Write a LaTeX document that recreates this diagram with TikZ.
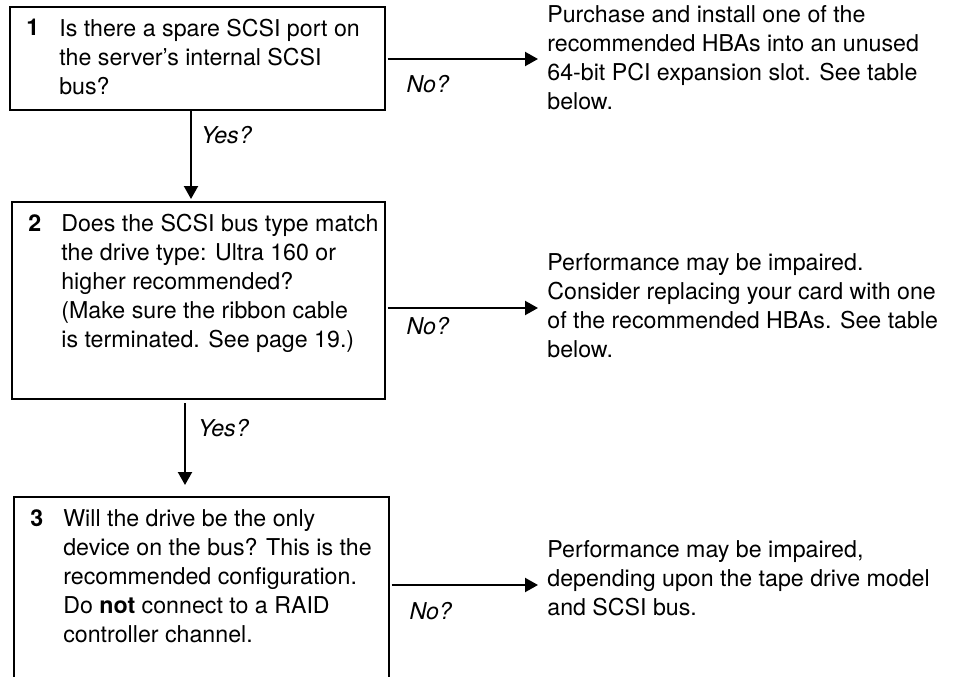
\documentclass[tikz,border=0pt]{standalone}
\usepackage{fontspec}
\setmainfont{TeX Gyre Heros}
\usetikzlibrary{arrows.meta}
\tikzset{
  qbox/.style = {draw, line width=1.2pt, inner sep=0pt, outer sep=0pt},
  qnum/.style = {anchor=north west, inner sep=0pt,
                 font=\fontsize{13.2}{16.5}\selectfont\bfseries},
  qtext/.style = {anchor=north west, align=left, inner sep=0pt,
                  font=\fontsize{13.2}{16.5}\selectfont},
  res/.style = {anchor=west, align=left, inner xsep=0.18cm, inner ysep=0pt,
                font=\fontsize{13.2}{16.5}\selectfont},
  ans/.style = {inner sep=0pt, font=\fontsize{13.2}{16.5}\selectfont\itshape},
  arr/.style = {line width=1.2pt, -{Triangle[length=0.26cm, width=0.28cm]}}
}

\begin{document}
\begin{tikzpicture}
	\def \W{19.08}
	\def \H{13.54}
	\def \numx{0.32}
	\def \txtx{0.98}
	\def \topy{0.24}

	\useasboundingbox (0,0) rectangle (\W,-\H);
	\clip (0,0) rectangle (\W,-\H);

	% Question boxes
	\node[qbox, minimum width=7.50cm, minimum height=2.06cm] (box1) at (3.95,-1.17) {};
	\node[qbox, minimum width=7.46cm, minimum height=3.94cm] (box2) at (3.97,-6.01) {};
	\node[qbox, minimum width=7.50cm, minimum height=3.86cm] (box3) at (4.03,-11.87) {}; % bottom runs off the page

	% Numbers
	\node[qnum] (num1) at ([shift={(\numx,-\topy)}]box1.north west) {1};
	\node[qnum] (num2) at ([shift={(\numx,-\topy)}]box2.north west) {2};
	\node[qnum] (num3) at ([shift={(\numx,-\topy)}]box3.north west) {3};

	% Questions
	\node[qtext] (txt1) at ([shift={(\txtx,-\topy)}]box1.north west)
		{Is there a spare SCSI port on\\the server’s internal SCSI\\bus?};
	\node[qtext] (txt2) at ([shift={(\txtx,-\topy)}]box2.north west)
		{Does the SCSI bus type match\\the drive type: Ultra 160 or\\higher recommended?\\(Make sure the ribbon cable\\is terminated. See page 19.)};
	\node[qtext] (txt3) at ([shift={(\txtx,-\topy)}]box3.north west)
		{Will the drive be the only\\device on the bus? This is the\\recommended configuration.\\Do \textbf{not} connect to a RAID\\controller channel.};

	% Answers
	\node[res] (res1) at (10.76,-1.15)
		{Purchase and install one of the\\recommended HBAs into an unused\\64-bit PCI expansion slot. See table\\below.};
	\node[res] (res2) at (10.76,-6.12)
		{Performance may be impaired.\\Consider replacing your card with one\\of the recommended HBAs. See table\\below.};
	\node[res] (res3) at (10.76,-11.57)
		{Performance may be impaired,\\depending upon the tape drive model\\and SCSI bus.};

	% Yes
	\coordinate (yes1) at (3.82,0);
	\coordinate (yes2) at (3.70,0);
	\draw[arr, shorten >=0.06cm] (yes1 |- box1.south) -- (yes1 |- box2.north)
		node[ans, pos=0.27, right=0.18cm] (y1) {Yes?};
	\draw[arr, shorten <=0.08cm, shorten >=0.24cm] (yes2 |- box2.south) -- (yes2 |- box3.north)
		node[ans, pos=0.30, right=0.24cm] (y2) {Yes?};

	% No
	\coordinate (no1) at (0,-1.18);
	\coordinate (no2) at (0,-6.16);
	\coordinate (no3) at (0,-11.70);
	\draw[arr, shorten <=0.05cm] (box1.east |- no1) -- (res1.west |- no1)
		node[ans, pos=0.28, below=0.31cm] (n1) {No?};
	\draw[arr, shorten <=0.05cm] (box2.east |- no2) -- (res2.west |- no2)
		node[ans, pos=0.28, below=0.17cm] (n2) {No?};
	\draw[arr, shorten <=0.05cm] (box3.east |- no3) -- (res3.west |- no3)
		node[ans, pos=0.28, below=0.33cm] (n3) {No?};

\end{tikzpicture}
\end{document}
